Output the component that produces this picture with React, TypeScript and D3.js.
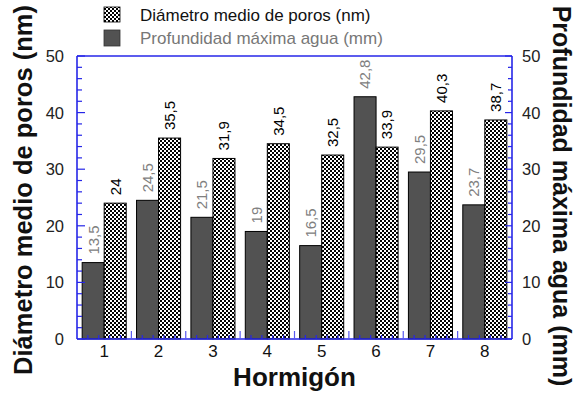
import React from "react";
import * as d3 from "d3";

// Concrete mixes and the two measured series
const categories = ["1", "2", "3", "4", "5", "6", "7", "8"];
const poreDiameter = [24, 35.5, 31.9, 34.5, 32.5, 33.9, 40.3, 38.7]; // nm, hatched
const waterDepth = [13.5, 24.5, 21.5, 19, 16.5, 42.8, 29.5, 23.7]; // mm, dark
const yTicks = [0, 10, 20, 30, 40, 50];

const seriesKeys = ["depth", "diameter"];
const legendLabels = ["Diámetro medio de poros (nm)", "Profundidad máxima agua (mm)"];

const W = 581;
const H = 394;
const plot = { left: 77, right: 512, top: 56, bottom: 339 };
const FONT = "'Liberation Sans', Arial, Helvetica, sans-serif";
const AXIS = "#2626e8";

const fmt = (v: number) => String(v).replace(".", ",");

export default function App() {
  const x = d3.scaleBand<string>().domain(categories).range([plot.left, plot.right]);
  const bw = x.bandwidth();
  const groupW = bw * 0.81;
  const inner = d3
    .scaleBand<string>()
    .domain(seriesKeys)
    .range([(bw - groupW) / 2, (bw + groupW) / 2]);
  const y = d3.scaleLinear().domain([0, 50]).range([plot.bottom, plot.top]);

  const majorY = yTicks;
  const minorY = d3.range(0, 51, 2).filter((v) => v % 10 !== 0);

  const bottomMinor: number[] = [];
  categories.forEach((c) => {
    for (let k = 1; k < 5; k++) bottomMinor.push((x(c) as number) + (bw * k) / 5);
  });
  const bottomMajor = categories.slice(1).map((c) => x(c) as number);

  const rows = categories.map((c, i) => ({
    cat: c,
    depth: waterDepth[i],
    diameter: poreDiameter[i],
  }));

  return (
    <svg
      width={W}
      height={H}
      style={{ position: "absolute", left: 0, top: 0, background: "#fff" }}
      fontFamily={FONT}
    >
      <defs>
        <pattern id="checks" width={4} height={4} patternUnits="userSpaceOnUse">
          <rect width={4} height={4} fill="#fff" />
          <rect x={0} y={0} width={2} height={2} fill="#000" />
          <rect x={2} y={2} width={2} height={2} fill="#000" />
        </pattern>
      </defs>

      {/* Legend */}
      <rect x={104} y={7} width={16} height={15} fill="url(#checks)" stroke="#000" strokeWidth={0.8} />
      <text x={140} y={21} fontSize={17} fill="#111">{legendLabels[0]}</text>
      <rect x={104} y={30} width={16} height={16} fill="#525252" stroke="#333" strokeWidth={0.8} />
      <text x={140} y={44} fontSize={17} fill="#777">{legendLabels[1]}</text>

      {/* Bars */}
      {rows.map((r) => {
        const x0 = x(r.cat) as number;
        const xd = x0 + (inner("depth") as number);
        const xh = x0 + (inner("diameter") as number);
        const ib = inner.bandwidth();
        return (
          <g key={r.cat}>
            <rect x={xd} y={y(r.depth)} width={ib} height={plot.bottom - y(r.depth)} fill="#525252" stroke="#000" strokeWidth={1} />
            <rect x={xh} y={y(r.diameter)} width={ib} height={plot.bottom - y(r.diameter)} fill="url(#checks)" stroke="#000" strokeWidth={1} />
            <text
              transform={`translate(${xd + ib / 2},${y(r.depth) - 8}) rotate(-90)`}
              dy="0.36em"
              fontSize={15}
              fill="#808080"
            >
              {fmt(r.depth)}
            </text>
            <text
              transform={`translate(${xh + ib / 2},${y(r.diameter) - 8}) rotate(-90)`}
              dy="0.36em"
              fontSize={15}
              fill="#000"
            >
              {fmt(r.diameter)}
            </text>
          </g>
        );
      })}

      {/* Frame */}
      <g stroke={AXIS} strokeWidth={1.6} fill="none">
        <line x1={plot.left} x2={plot.right} y1={plot.top} y2={plot.top} />
        <line x1={plot.left} x2={plot.right} y1={plot.bottom} y2={plot.bottom} />
        <line x1={plot.left} x2={plot.left} y1={plot.top} y2={plot.bottom} />
        <line x1={plot.right} x2={plot.right} y1={plot.top} y2={plot.bottom} />
      </g>

      {/* Left, right and bottom ticks */}
      <g stroke={AXIS} strokeWidth={1.2}>
        {majorY.map((v) => (
          <g key={"m" + v}>
            <line x1={plot.left} x2={plot.left + 8} y1={y(v)} y2={y(v)} />
            <line x1={plot.right} x2={plot.right - 7} y1={y(v)} y2={y(v)} />
          </g>
        ))}
        {minorY.map((v) => (
          <g key={"n" + v}>
            <line x1={plot.left} x2={plot.left + 5} y1={y(v)} y2={y(v)} />
            <line x1={plot.right} x2={plot.right - 4} y1={y(v)} y2={y(v)} />
          </g>
        ))}
        {bottomMinor.map((v, i) => (
          <line key={"b" + i} x1={v} x2={v} y1={plot.bottom} y2={plot.bottom - 4} />
        ))}
        {bottomMajor.map((v, i) => (
          <line key={"B" + i} x1={v} x2={v} y1={plot.bottom} y2={plot.bottom - 8} stroke="#5a5af0" />
        ))}
      </g>

      {/* Tick labels */}
      {majorY.map((v) => (
        <g key={"l" + v} fontSize={16.5} fill="#222">
          <text x={plot.left - 13} y={y(v)} dy="0.36em" textAnchor="end">{v}</text>
          <text x={plot.right + 10} y={y(v)} dy="0.36em" textAnchor="start">{v}</text>
        </g>
      ))}
      {categories.map((c) => (
        <text key={"c" + c} x={(x(c) as number) + bw / 2} y={357} fontSize={17} textAnchor="middle" fill="#111">
          {c}
        </text>
      ))}

      {/* Axis titles */}
      <text x={(plot.left + plot.right) / 2} y={386} fontSize={26} fontWeight="bold" textAnchor="middle" fill="#111">
        Hormigón
      </text>
      <text
        transform={`translate(32,190) rotate(-90)`}
        fontSize={25.5}
        fontWeight="bold"
        textAnchor="middle"
        fill="#111"
      >
        Diámetro medio de poros (nm)
      </text>
      <text
        transform={`translate(553,196) rotate(90)`}
        fontSize={25}
        fontWeight="bold"
        textAnchor="middle"
        fill="#111"
      >
        Profundidad máxima agua (mm)
      </text>
    </svg>
  );
}
